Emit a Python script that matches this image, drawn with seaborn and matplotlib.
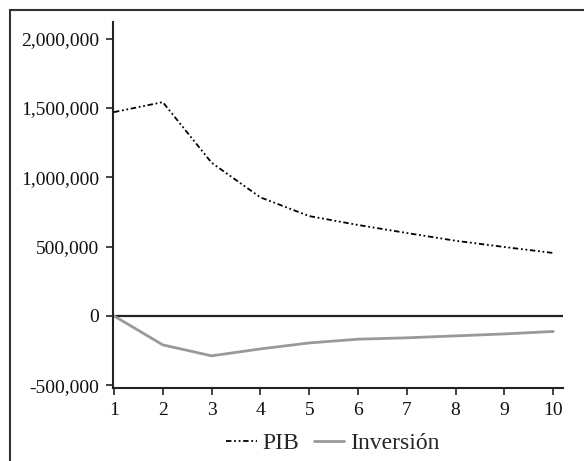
import numpy as np
import pandas as pd
import matplotlib.pyplot as plt
import seaborn as sns
from matplotlib.patches import Rectangle
from matplotlib.ticker import FuncFormatter

periods = [1, 2, 3, 4, 5, 6, 7, 8, 9, 10]
pib = [1470000, 1542000, 1105000, 855000, 720000, 656000, 598000, 542000, 497000, 454000]
inversion = [0, -209000, -288000, -238000, -195000, -168000, -158000, -144000, -130000, -112000]
y_ticks = [-500000, 0, 500000, 1000000, 1500000, 2000000]
x_ticks = periods

sns.set_theme(style="ticks")
plt.rcParams["font.family"] = ["Liberation Serif", "DejaVu Serif"]

df = pd.DataFrame({"periodo": periods, "PIB": pib, "Inversión": inversion})

fig = plt.figure(figsize=(5.84, 4.61), dpi=100)
ax = fig.add_axes([113 / 584, 1 - 388 / 461, (563 - 113) / 584, (388 - 22) / 461])

# outer frame (cropped on right and bottom in the original)
fig.patches.append(Rectangle((10 / 584, -0.1), 1.2, 1 - 10 / 461 + 0.1,
                             transform=fig.transFigure, fill=False,
                             edgecolor="#333333", linewidth=1.5, zorder=0))

ax.axhline(0, color="#222222", linewidth=1.6, zorder=1)
sns.lineplot(data=df, x="periodo", y="PIB", ax=ax, color="black",
             linewidth=1.3, linestyle=(0, (3, 1.5, 1, 1.5, 1, 1.5)), label="PIB")
sns.lineplot(data=df, x="periodo", y="Inversión", ax=ax, color="#999999",
             linewidth=2.0, label="Inversión")

ax.set_xlim(0.98, 10.2)
ax.set_ylim(-520000, 2120000)
ax.set_xticks(x_ticks)
ax.set_yticks(y_ticks)
ax.yaxis.set_major_formatter(FuncFormatter(lambda v, p: f"{int(v):,}"))
ax.set_xlabel("")
ax.set_ylabel("")
ax.tick_params(axis="both", direction="out", length=5, width=1.2,
               color="#222222", labelsize=14, pad=5, labelcolor="#111111")
for side in ["top", "right"]:
    ax.spines[side].set_visible(False)
for side in ["left", "bottom"]:
    ax.spines[side].set_color("#222222")
    ax.spines[side].set_linewidth(1.5)

handles, labels = ax.get_legend_handles_labels()
ax.get_legend().remove()
fig.legend(handles, labels, loc="center", bbox_to_anchor=(333 / 584, 1 - 443 / 461),
           ncol=2, frameon=False, fontsize=17, handlelength=1.3,
           handletextpad=0.25, columnspacing=0.6)

fig.savefig("out.png", dpi=100)
